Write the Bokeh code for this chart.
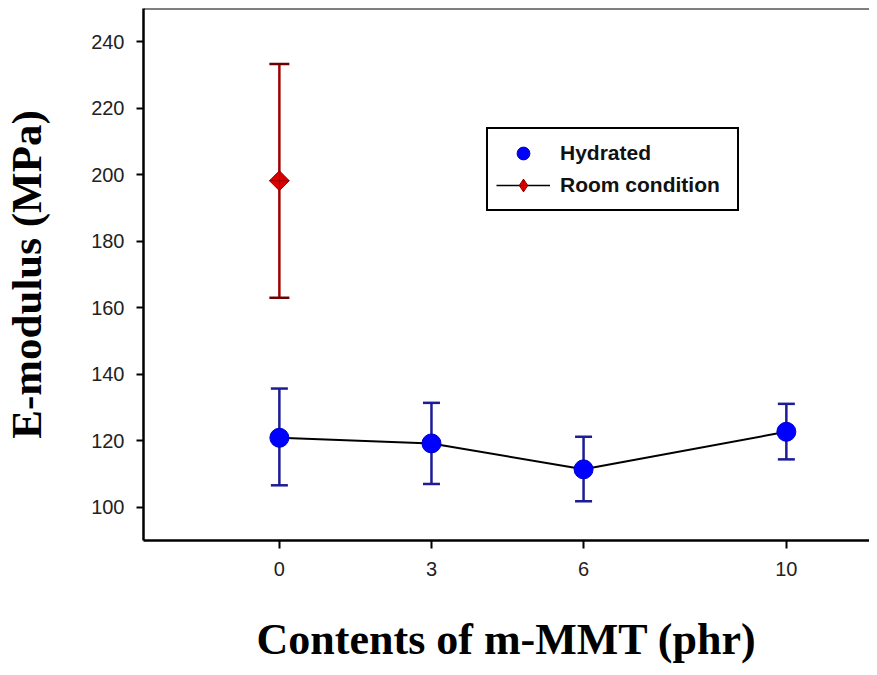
from bokeh.plotting import figure
from bokeh.models import (ColumnDataSource, Whisker, TeeHead, FixedTicker, Range1d,
                          Legend, LegendItem, Span)
from bokeh.embed import file_html
from bokeh.resources import INLINE
import numpy as np

# ---- data ----
contents = [0, 3, 6, 10]
hydrated_mean = [120.9, 119.2, 111.4, 122.7]
hydrated_upper = [135.7, 131.4, 121.2, 131.1]
hydrated_lower = [106.6, 107.0, 101.8, 114.4]

room_contents = [0]
room_mean = [198.2]
room_upper = [233.3]
room_lower = [163.0]

x_ticks = [0, 3, 6, 10]
y_ticks = [100, 120, 140, 160, 180, 200, 220, 240]

hyd = ColumnDataSource(dict(x=contents, y=hydrated_mean, up=hydrated_upper, lo=hydrated_lower))
room = ColumnDataSource(dict(x=room_contents, y=room_mean, up=room_upper, lo=room_lower))

p = figure(width=869, height=667, output_backend="svg", toolbar_location=None,
           x_range=Range1d(-2.68, 11.64), y_range=Range1d(90, 250),
           min_border_left=143, min_border_right=0, min_border_top=8, min_border_bottom=127)
p.outline_line_color = None
p.xgrid.visible = False
p.ygrid.visible = False
p.background_fill_color = "white"

# top frame line
p.add_layout(Span(location=250, dimension="width", line_color="black", line_width=2))

# axes
p.xaxis.ticker = FixedTicker(ticks=x_ticks)
p.yaxis.ticker = FixedTicker(ticks=y_ticks)
for ax in (p.xaxis[0], p.yaxis[0]):
    ax.axis_line_width = 2.5
    ax.axis_line_color = "black"
    ax.major_tick_line_width = 2
    ax.major_tick_line_color = "black"
    ax.major_tick_in = 0
    ax.minor_tick_line_color = None
    ax.major_label_text_font = "Liberation Sans"
    ax.major_label_text_font_size = "20px"
    ax.major_label_text_color = "#222222"
    ax.axis_label_text_font = "Liberation Serif"
    ax.axis_label_text_font_style = "bold"
    ax.axis_label_text_color = "black"

p.xaxis.major_tick_out = 8
p.xaxis.major_label_standoff = 13
p.xaxis.axis_label = "Contents of m-MMT (phr)"
p.xaxis.axis_label_text_font_size = "44px"
p.xaxis.axis_label_standoff = 36

p.yaxis.major_tick_out = 7
p.yaxis.major_label_standoff = 12
p.yaxis.axis_label = "E-modulus (MPa)"
p.yaxis.axis_label_text_font_size = "43px"
p.yaxis.axis_label_standoff = 38

# hydrated series
p.line("x", "y", source=hyd, line_color="black", line_width=2)
p.add_layout(Whisker(source=hyd, base="x", upper="up", lower="lo",
                     line_color="#1c1c96", line_width=2.5,
                     upper_head=TeeHead(size=17, line_color="#1c1c96", line_width=2.5),
                     lower_head=TeeHead(size=17, line_color="#1c1c96", line_width=2.5)))
r_hyd = p.scatter("x", "y", source=hyd, marker="circle", size=19,
                  fill_color="#0000ff", line_color="#0000cc", line_width=1)

# room condition series
p.add_layout(Whisker(source=room, base="x", upper="up", lower="lo",
                     line_color="#a00000", line_width=2.5,
                     upper_head=TeeHead(size=20, line_color="#6a0000", line_width=2.5),
                     lower_head=TeeHead(size=20, line_color="#6a0000", line_width=2.5)))
r_room_line = p.line("x", "y", source=room, line_color="black", line_width=1.5)
p.scatter("x", "y", source=room, marker="square_x", size=14, angle=np.pi / 4,
          fill_color="#dd0000", line_color="#990000", line_width=1)
# legend glyph for the room condition (tiny in the plot, hidden under the marker)
r_room_leg = p.scatter("x", "y", source=room, marker="diamond_cross", size=1,
                       fill_color="#dd0000", line_color="#990000", line_width=1)

legend = Legend(items=[LegendItem(label="Hydrated", renderers=[r_hyd]),
                       LegendItem(label="Room condition", renderers=[r_room_line, r_room_leg])],
                location=(343, 329))
legend.border_line_color = "black"
legend.border_line_alpha = 1
legend.border_line_width = 2
legend.background_fill_color = "white"
legend.background_fill_alpha = 1
legend.label_text_font = "Liberation Sans"
legend.label_text_font_style = "bold"
legend.label_text_font_size = "21px"
legend.label_text_color = "#111111"
legend.glyph_width = 54
legend.glyph_height = 32
legend.label_height = 32
legend.label_width = 169
legend.label_standoff = 10
legend.spacing = 0
legend.padding = 8
legend.margin = 0
p.add_layout(legend, "center")

open("out.html", "w").write(file_html(p, INLINE))
